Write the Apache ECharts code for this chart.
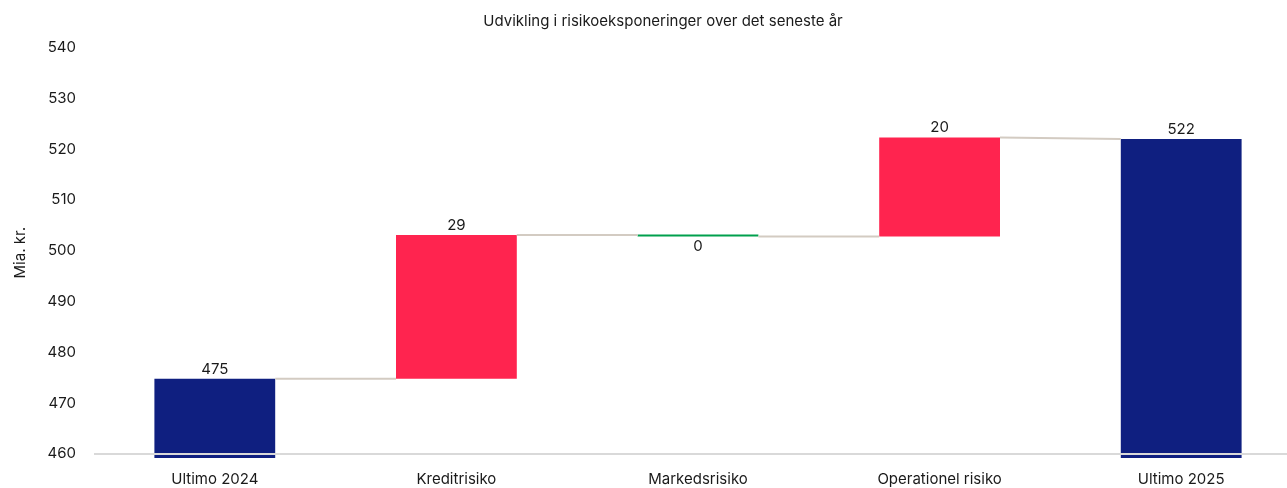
<!DOCTYPE html>
<html>
<head>
<meta charset="utf-8">
<script src="https://cdn.jsdelivr.net/npm/echarts@6/dist/echarts.min.js"></script>
<style>
html,body{margin:0;padding:0;background:#fff;overflow:hidden;width:1287px;height:488px;}
#c{width:1312px;height:488px;}
</style>
</head>
<body>
<div id="c"></div>
<script>
// ---- data ----
var categories = ['Ultimo 2024', 'Kreditrisiko', 'Markedsrisiko', 'Operationel risiko', 'Ultimo 2025'];
var startTotal = 474.8;
var changes = [28.3, -0.3, 19.5];
var endTotal = 522.0;
var valueLabels = ['475', '29', '0', '20', '522'];
var yTicks = [460, 470, 480, 490, 500, 510, 520, 530, 540];

// ---- build waterfall ----
var FONT = 'Inter, "Noto Sans", sans-serif';
var TXT = '#1a1a1a';
var C_TOTAL = '#0f1f80', C_UP = '#ff244f', C_DOWN = '#00a04d';

var baseData = [], visData = [], connectors = [];
var level = startTotal;
baseData.push(0);
visData.push({value: startTotal, itemStyle: {color: C_TOTAL}, label: {position: 'top'}});
var levels = [startTotal];
changes.forEach(function (d) {
  var lo = Math.min(level, level + d);
  baseData.push(lo);
  visData.push({value: Math.abs(d), itemStyle: {color: d >= 0 ? C_UP : C_DOWN},
    label: {position: d >= 0 ? 'top' : 'bottom'}});
  level += d;
  levels.push(level);
});
baseData.push(0);
visData.push({value: endTotal, itemStyle: {color: C_TOTAL}, label: {position: 'top'}});
// connectors: from end level of bar i to start level of bar i+1
for (var i = 0; i < categories.length - 1; i++) {
  var y1 = levels[i];
  var y2 = (i + 1 < levels.length) ? levels[i] : endTotal;
  connectors.push([i, y1, y2]);
}

var chart = echarts.init(document.getElementById('c'), null, {renderer: 'canvas'});
chart.setOption({
  animation: false,
  backgroundColor: '#fff',
  textStyle: {fontFamily: FONT},
  title: {
    text: 'Udvikling i risikoeksponeringer over det seneste år',
    left: 658, top: 9, textAlign: 'center',
    textStyle: {fontFamily: FONT, fontSize: 15, fontWeight: 'normal', color: TXT}
  },
  grid: {left: 94, top: 47.5, width: 1208, height: 410.5, containLabel: false},
  xAxis: {
    type: 'category', data: categories,
    axisLine: {show: false}, axisTick: {show: false},
    axisLabel: {color: TXT, fontSize: 15, margin: 14, fontFamily: FONT, interval: 0}
  },
  yAxis: {
    type: 'value', min: 459.2, max: 540,
    name: 'Mia. kr.', nameLocation: 'middle', nameRotate: 90, nameGap: 66,
    nameTextStyle: {color: TXT, fontSize: 15, fontFamily: FONT},
    axisLine: {show: false}, axisTick: {show: false}, splitLine: {show: false},
    axisLabel: {color: TXT, fontSize: 15, margin: 18, fontFamily: FONT, customValues: yTicks}
  },
  series: [
    {
      type: 'bar', stack: 'wf', data: baseData, barWidth: '50%',
      itemStyle: {color: 'transparent'}, silent: true
    },
    {
      type: 'bar', stack: 'wf', data: visData, barWidth: '50%', barMinHeight: 2,
      label: {
        show: true, color: TXT, fontSize: 15, fontFamily: FONT, distance: 2,
        formatter: function (p) { return valueLabels[p.dataIndex]; }
      },
      markLine: {
        silent: true, symbol: 'none', animation: false,
        lineStyle: {color: '#d9d9d9', width: 2, type: 'solid'},
        label: {show: false},
        data: [{yAxis: 460}],
        z: 10
      },
      z: 2
    },
    {
      type: 'custom', data: connectors, z: 3, silent: true,
      renderItem: function (params, api) {
        var band = api.size([1, 0])[0];
        var p1 = api.coord([api.value(0), api.value(1)]);
        var p2 = api.coord([api.value(0) + 1, api.value(2)]);
        return {
          type: 'line',
          shape: {x1: p1[0] + band * 0.25, y1: p1[1], x2: p2[0] - band * 0.25, y2: p2[1]},
          style: {stroke: '#d3cbc2', lineWidth: 2}
        };
      }
    }
  ]
});
</script>
</body>
</html>
